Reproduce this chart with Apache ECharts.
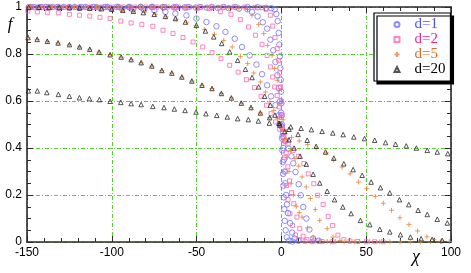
<!DOCTYPE html>
<html>
<head>
<meta charset="utf-8">
<script src="https://cdn.jsdelivr.net/npm/echarts@6/dist/echarts.min.js"></script>
<style>html,body{margin:0;padding:0;background:#fff;}#c{width:471px;height:273px;}</style>
</head>
<body>
<div id="c"></div>
<script>
// ---- tick / axis values ----
const xTicks = [-150, -100, -50, 0, 50, 100];
const yTicks = [0, 0.2, 0.4, 0.6, 0.8, 1];
const legendNames = ['d=1', 'd=2', 'd=5', 'd=20'];

// ---- d=1 (circles) ----
const d1_a = [[-149,0.999],[-143,0.999],[-137,0.999],[-131,0.998],[-125,0.998],[-119,0.997],[-113,0.996],[-107,0.995],[-100.5,0.994],[-94,0.992],[-87.5,0.99],[-81,0.988],
  [-74.9,0.986],[-68.4,0.979],[-62.5,0.972],[-56,0.964],[-50.1,0.951],[-44.2,0.936],[-38.3,0.918],[-33,0.894],[-27.5,0.865],[-23.2,0.83],[-18.7,0.794],[-14.7,0.755],[-11.4,0.714],[-8.4,0.667],[-6.1,0.62],[-3.5,0.582],[-1.6,0.539],[-0.4,0.497],
  [1,0.465],[2.5,0.43],[4.3,0.397],[5.9,0.365],[7,0.335],[8.3,0.298],[10.2,0.246],[11.4,0.199],[12.9,0.149],[14.7,0.1],[16.5,0.053],[18.7,0.015],[22,0.005]];
const d1_b = [[-148,1],[-141.5,1],[-135,1],[-128.5,1],[-122,1],[-115.5,1],[-109,1],[-102.5,1],[-96,1],[-89.5,1],[-83,1],[-76.5,1],[-70,1],[-63.5,0.999],[-57,0.999],[-50.5,0.998],[-44,0.997],[-37.5,0.996],[-31,0.995],[-25,0.993],
  [-20,0.99],[-17.3,0.979],[-14,0.96],[-11,0.935],[-8.4,0.908],[-6.5,0.861],[-4.8,0.816],[-3.5,0.766],[-2.4,0.71],[-1.5,0.655],[-0.8,0.6],[-0.2,0.55],
  [0.3,0.5],[0.7,0.45],[1.1,0.4],[1.5,0.35],[1.9,0.3],[2.3,0.25],[2.8,0.2],[3.3,0.16],[3.9,0.123],[5.1,0.08],[6.3,0.04],[7.8,0.015],[10,0.005]];
const d1_c = [[-146,1],[-139,1],[-132,1],[-125,1],[-118,1],[-111,1],[-104,1],[-97,1],[-90,1],[-83,1],[-76,1],[-69,1],[-62,1],[-55,1],[-48,1],[-41,1],[-34,1],[-27,1],[-20,1],[-14,0.999],[-9,0.997],[-6,0.995],
  [-4,0.99],[-3,0.97],[-2.2,0.94],[-1.6,0.89],[-1.2,0.84],[-0.9,0.79],[-0.6,0.74],[-0.4,0.69],[-0.2,0.64],[0,0.59],[0.1,0.54],[0.25,0.49],[0.4,0.44],[0.6,0.39],[0.8,0.34],[1,0.29],[1.2,0.24],[1.4,0.19],[1.7,0.14],[2,0.09],[2.5,0.05],[3.2,0.02],[4.5,0.006],[6.5,0.002]];

// ---- d=2 (squares) ----
const d2_a = [[-149.5,0.983],[-143.9,0.979],[-138,0.977],[-131.5,0.975],[-125,0.969],[-119,0.965],[-113,0.961],[-107,0.956],[-101,0.951],[-94.7,0.94],[-88.6,0.932],[-82.3,0.926],[-75.8,0.918],[-69.8,0.901],[-63.9,0.887],[-58,0.87],[-52.1,0.851],[-46.4,0.83],[-40.9,0.806],[-35.6,0.78],[-30.5,0.752],[-25.5,0.723],[-20.6,0.691],[-15.9,0.657],[-12,0.62],[-8.8,0.582],[-6.1,0.546],[-3.5,0.511],
  [-1,0.48],[1.5,0.45],[4,0.42],[7,0.39],[10.2,0.365],[13.2,0.334],[15.8,0.29],[19.1,0.248],[21.4,0.199],[24.6,0.16],[27.6,0.109],[30.2,0.07],[33.3,0.029],[36.8,0.01],[40.5,0.004],[45,0.002],[50,0.001],[55,0.001],[60,0.001]];
const d2_b = [[-147.5,0.999],[-141,0.999],[-134.5,0.999],[-128,0.999],[-121.5,0.999],[-115,0.999],[-108.5,0.998],[-102,0.998],[-95.5,0.998],[-89,0.998],[-82.5,0.997],[-76,0.997],[-69.5,0.996],[-63,0.996],[-56.5,0.995],[-49.5,0.994],[-42.3,0.993],
  [-36,0.98],[-29.7,0.969],[-24.2,0.946],[-19.3,0.915],[-15.3,0.88],[-11.4,0.841],[-8.4,0.794],[-6.5,0.745],[-5.1,0.702],[-4,0.66],[-2.5,0.624],[-1.3,0.575],[-0.3,0.53],
  [0.7,0.48],[1.8,0.43],[2.8,0.38],[3.8,0.32],[4.8,0.26],[6,0.21],[7.3,0.163],[9.2,0.106],[10.8,0.057],[12.8,0.025],[15,0.01],[19,0.004],[24,0.002],[30,0.001]];
const d2_c = [[-145,1],[-138.5,1],[-132,1],[-125.5,1],[-119,1],[-112.5,1],[-106,1],[-99.5,1],[-93,1],[-86.5,1],[-80,1],[-73.5,1],[-67,1],[-60.5,1],[-54,1],[-47.5,1],[-41,1],[-34.5,1],[-28,1],[-21.5,1],[-15.5,0.999],[-11.5,0.997],
  [-9,0.99],[-6.5,0.965],[-5.1,0.919],[-3.8,0.87],[-2.5,0.823],[-1.6,0.773],[-1,0.72],[-0.5,0.66],[0,0.6],[0.4,0.54],[0.8,0.48],[1.2,0.42],[1.7,0.36],[2.3,0.3],[3,0.24],[3.9,0.18],[5,0.12],[6.5,0.07],[8.3,0.03],[10.5,0.01],[14,0.003],[18,0.001]];

// ---- d=5 (pluses) ----
const d5_a = [[-149.4,0.87],[-144,0.862],[-138,0.854],[-131.7,0.847],[-125,0.84],[-119,0.83],[-113,0.82],[-107.5,0.808],[-101,0.797],[-94.5,0.787],[-88.6,0.776],[-82.7,0.763],[-76.4,0.749],[-70.5,0.73],[-64.6,0.719],[-58.7,0.702],[-52.8,0.685],[-46.8,0.667],[-40.9,0.653],[-35.4,0.632],[-29.5,0.613],[-23.6,0.591],[-17.9,0.572],[-12.4,0.549],[-6.9,0.529],[-1.5,0.505],
  [3,0.47],[6,0.445],[10.5,0.43],[15.5,0.415],[20.5,0.4],[26.5,0.379],[30.8,0.348],[35.8,0.319],[40.5,0.29],[45.5,0.255],[50.4,0.227],[55.3,0.194],[60.1,0.165],[64.9,0.135],[69.9,0.103],[75.2,0.075],[80.3,0.047],[85.8,0.022],[90,0.01],[94.5,0.004],[99,0.002]];
const d5_b = [[-149,1],[-143,0.999],[-137,0.999],[-131,0.998],[-125,0.998],[-119,0.997],[-113,0.995],[-107,0.993],[-100,0.99],[-93.5,0.986],[-87.3,0.983],[-80.6,0.979],[-74.3,0.969],[-68,0.958],[-62,0.948],[-56,0.935],[-50.5,0.92],[-45.4,0.904],[-39.5,0.884],[-34,0.858],[-29,0.83],[-24.2,0.79],[-19.9,0.759],[-16.3,0.719],[-12.4,0.681],[-9.4,0.638],[-6.9,0.596],[-4.5,0.56],[-2.2,0.525],
  [0.5,0.48],[3,0.435],[5.5,0.39],[8,0.355],[10.2,0.323],[12.2,0.277],[14.7,0.234],[17.1,0.185],[20,0.138],[22.6,0.092],[27,0.057],[30.5,0.021],[34.5,0.006],[40,0.003],[46,0.002],[52,0.002],[58,0.001],[64,0.001],[70,0.001],[76,0.001],[82,0.001],[88,0.001],[94,0.001]];
const d5_c = [[-148,1],[-141.5,1],[-135,1],[-128.5,1],[-122,1],[-115.5,1],[-109,1],[-102.5,1],[-96,1],[-89.5,1],[-83,1],[-76.5,1],[-70,1],[-63.5,1],[-57,0.999],[-50.5,0.999],[-44,0.998],[-37.5,0.997],[-31,0.996],[-25,0.994],[-20,0.99],
  [-17.3,0.965],[-13.4,0.926],[-10.4,0.887],[-8.1,0.837],[-5.5,0.794],[-4,0.738],[-2.5,0.688],[-1.2,0.646],[0,0.59],[1,0.52],[2.2,0.44],[3.5,0.36],[4.5,0.3],[5.7,0.248],[7.2,0.2],[8.8,0.152],[10.5,0.125],[12.2,0.106],[15.4,0.06],[18.7,0.021],[22.5,0.008],[27,0.003],[32,0.002],[37,0.001],[43,0.001]];

// ---- d=20 (triangles) ----
const d20_a = [[-149.4,0.87],[-144,0.862],[-138,0.854],[-131.7,0.847],[-125,0.84],[-119,0.83],[-113,0.82],[-107.5,0.808],[-101,0.797],[-94.5,0.787],[-88.6,0.776],[-82.7,0.763],[-76.4,0.749],[-70.5,0.73],[-64.6,0.719],[-58.7,0.702],[-52.8,0.685],[-46.8,0.667],[-40.9,0.653],[-35.4,0.632],[-29.5,0.613],[-23.6,0.591],[-17.9,0.572],[-12.4,0.549],[-6.9,0.529],[-1.5,0.505],
  [4.5,0.48],[9.8,0.458],[15.2,0.433],[20.5,0.407],[26,0.383],[30.9,0.357],[36.8,0.333],[42.3,0.308],[47.6,0.284],[52.9,0.255],[58.4,0.231],[63.9,0.209],[69.6,0.18],[75.1,0.159],[80.6,0.135],[86,0.117],[91.9,0.097],[97.8,0.081]];
const d20_b = [[-149.2,0.643],[-143.9,0.643],[-138.3,0.636],[-131.5,0.628],[-125,0.62],[-119.1,0.614],[-113.2,0.61],[-107.3,0.606],[-101,0.599],[-94.7,0.594],[-88.6,0.589],[-82.7,0.585],[-75.8,0.577],[-69.2,0.572],[-63.1,0.566],[-56.8,0.56],[-50.3,0.553],[-44.5,0.546],[-38.1,0.539],[-31.9,0.532],[-25.8,0.525],[-19.5,0.521],[-13.6,0.515],[-7.1,0.506],[-1,0.498],
  [5.5,0.49],[11.6,0.484],[17.7,0.478],[24,0.471],[30.3,0.464],[36.4,0.457],[42.7,0.447],[49,0.44],[55,0.433],[61.4,0.423],[67.3,0.416],[73.6,0.409],[79.6,0.4],[86,0.39],[91.9,0.383],[98.1,0.376]];
const d20_c = [[-149,0.999],[-143,0.999],[-137,0.998],[-131,0.998],[-125,0.997],[-119,0.996],[-113,0.995],[-106,0.993],[-100,0.991],[-93.5,0.986],[-87.3,0.982],[-81.4,0.976],[-75,0.969],[-68.4,0.96],[-62.5,0.951],[-56.6,0.936],[-50.1,0.922],[-44.8,0.898],[-39.9,0.873],[-35.2,0.845],[-30.5,0.809],[-25.8,0.773],[-21.2,0.735],[-17.3,0.7],[-13.4,0.66],[-9.9,0.62],[-6.5,0.582],[-3.8,0.54],[-1,0.505],
  [2,0.47],[4.5,0.435],[7.5,0.4],[11,0.365],[14.7,0.331],[18.7,0.288],[22.6,0.251],[27,0.216],[31.3,0.18],[36.2,0.149],[41.1,0.121],[46.6,0.092],[52.1,0.074],[58,0.054],[63.9,0.043],[70.2,0.031],[76.1,0.021],[82.4,0.014],[88.9,0.011],[94.8,0.007]];

const seriesData = {
  'd=1': d1_a.concat(d1_b, d1_c),
  'd=2': d2_a.concat(d2_b, d2_c),
  'd=5': d5_a.concat(d5_b, d5_c),
  'd=20': d20_a.concat(d20_b, d20_c)
};

const colors = { 'd=1': '#7070ff', 'd=2': '#ff66b2', 'd=5': '#e8843e', 'd=20': '#2a2a2a' };
const textColors = { 'd=1': '#5050ee', 'd=2': '#ee2299', 'd=5': '#dd6a22', 'd=20': '#000000' };
const symbols = { 'd=1': 'circle', 'd=2': 'rect', 'd=5': 'path://M0,5L10,5M5,0L5,10', 'd=20': 'triangle' };
const sizes = { 'd=1': 5.5, 'd=2': 4, 'd=5': 5, 'd=20': 4.5 };

const axisCol = '#2a2a2a';
const gridCol = '#55d030';
const labelFont = { fontFamily: 'Liberation Sans', fontSize: 12, color: '#000' };

const chart = echarts.init(document.getElementById('c'), null, { renderer: 'canvas' });

function xAx(pos, show) {
  return {
    type: 'value', position: pos, min: xTicks[0], max: xTicks[xTicks.length - 1], interval: 50,
    axisLine: { show: true, onZero: false, lineStyle: { color: axisCol, width: 1.6 } },
    axisTick: { show: true, inside: true, length: 6, lineStyle: { color: axisCol, width: 1 } },
    minorTick: { show: true, splitNumber: 5, length: 4, lineStyle: { color: axisCol, width: 1 } },
    splitLine: { show: show, lineStyle: { color: gridCol, width: 1, type: [4, 2, 1, 2] } },
    axisLabel: Object.assign({ show: show, margin: 5 }, labelFont)
  };
}
function yAx(pos, show) {
  return {
    type: 'value', position: pos, min: yTicks[0], max: yTicks[yTicks.length - 1], interval: 0.2,
    axisLine: { show: true, onZero: false, lineStyle: { color: axisCol, width: 1.6 } },
    axisTick: { show: true, inside: true, length: 6, lineStyle: { color: axisCol, width: 1 } },
    minorTick: { show: true, splitNumber: 4, length: 4, lineStyle: { color: axisCol, width: 1 } },
    splitLine: { show: show, lineStyle: { color: gridCol, width: 1, type: [4, 2, 1, 2] } },
    axisLabel: Object.assign({ show: show, margin: 5 }, labelFont)
  };
}

const series = legendNames.map(function (n) {
  return {
    name: n, type: 'scatter', xAxisIndex: 0, yAxisIndex: 0,
    symbol: symbols[n], symbolSize: sizes[n],
    itemStyle: { color: 'none', borderColor: colors[n], borderWidth: 1 },
    emphasis: { disabled: true },
    data: seriesData[n]
  };
});

chart.setOption({
  animation: false,
  backgroundColor: '#fff',
  grid: { left: 27, right: 20, top: 7, bottom: 31, containLabel: false },
  xAxis: [xAx('bottom', true), xAx('top', false)],
  yAxis: [yAx('left', true), yAx('right', false)],
  legend: {
    orient: 'vertical', left: 374, top: 13,
    padding: [4, 5, 4, 18], itemGap: 0, itemWidth: 5, itemHeight: 5,
    backgroundColor: '#fff', borderColor: '#000', borderWidth: 1.2,
    shadowColor: '#000', shadowBlur: 0, shadowOffsetX: 3, shadowOffsetY: 3,
    textStyle: { fontFamily: 'Liberation Serif', fontSize: 15, lineHeight: 14, padding: [0, 0, 0, 10] },
    data: legendNames.map(function (n) { return { name: n, textStyle: { color: textColors[n] } }; })
  },
  graphic: [
    { type: 'text', x: 10, y: 25, style: { text: 'f', font: 'italic 17px "Liberation Serif"', fill: '#000', align: 'center', verticalAlign: 'middle' } },
    { type: 'text', x: 416, y: 257, style: { text: 'χ', font: 'italic 18px "Liberation Serif"', fill: '#000', align: 'center', verticalAlign: 'middle' } }
  ],
  series: series
});
</script>
</body>
</html>
